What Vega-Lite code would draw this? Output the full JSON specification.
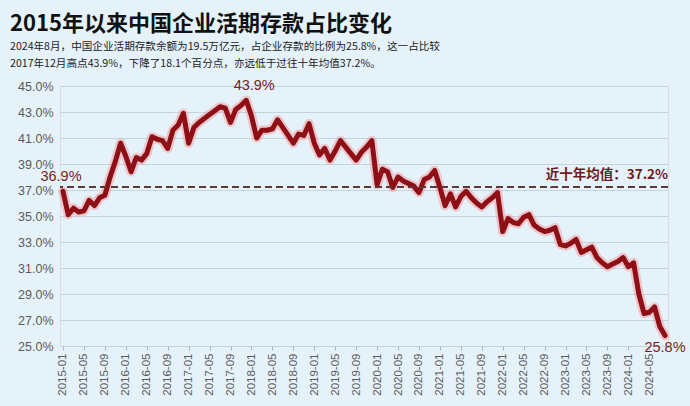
{
  "$schema": "https://vega.github.io/schema/vega-lite/v6.json",
  "width": 608,
  "height": 260,
  "autosize": {"type": "none"},
  "padding": {"left": 60, "top": 86, "right": 22, "bottom": 60},
  "background": "#e5f2fa",
  "title": {
    "text": "2015年以来中国企业活期存款占比变化",
    "subtitle": [
      "2024年8月，中国企业活期存款余额为19.5万亿元，占企业存款的比例为25.8%，这一占比较",
      "2017年12月高点43.9%，下降了18.1个百分点，亦远低于过往十年均值37.2%。"
    ],
    "anchor": "start",
    "frame": "group",
    "dx": -50,
    "offset": 8,
    "font": "Noto Sans CJK SC",
    "fontSize": 22,
    "fontWeight": "bold",
    "color": "#111111",
    "subtitleFont": "Noto Sans CJK SC",
    "subtitleFontSize": 10.6,
    "subtitleColor": "#222222",
    "subtitleLineHeight": 17,
    "subtitlePadding": 6
  },
  "datasets": {
    "ratio": [
      {"m": "2015-01", "v": 36.9}, {"m": "2015-02", "v": 35.1}, {"m": "2015-03", "v": 35.6}, {"m": "2015-04", "v": 35.3},
      {"m": "2015-05", "v": 35.4}, {"m": "2015-06", "v": 36.2}, {"m": "2015-07", "v": 35.8}, {"m": "2015-08", "v": 36.4},
      {"m": "2015-09", "v": 36.6}, {"m": "2015-10", "v": 38.0}, {"m": "2015-11", "v": 39.2}, {"m": "2015-12", "v": 40.6},
      {"m": "2016-01", "v": 39.6}, {"m": "2016-02", "v": 38.4}, {"m": "2016-03", "v": 39.5}, {"m": "2016-04", "v": 39.3},
      {"m": "2016-05", "v": 39.8}, {"m": "2016-06", "v": 41.1}, {"m": "2016-07", "v": 40.9}, {"m": "2016-08", "v": 40.8},
      {"m": "2016-09", "v": 40.2}, {"m": "2016-10", "v": 41.6}, {"m": "2016-11", "v": 42.0}, {"m": "2016-12", "v": 42.9},
      {"m": "2017-01", "v": 40.6}, {"m": "2017-02", "v": 41.8}, {"m": "2017-03", "v": 42.2}, {"m": "2017-04", "v": 42.5},
      {"m": "2017-05", "v": 42.8}, {"m": "2017-06", "v": 43.1}, {"m": "2017-07", "v": 43.4}, {"m": "2017-08", "v": 43.3},
      {"m": "2017-09", "v": 42.2}, {"m": "2017-10", "v": 43.2}, {"m": "2017-11", "v": 43.5}, {"m": "2017-12", "v": 43.9},
      {"m": "2018-01", "v": 42.7}, {"m": "2018-02", "v": 41.0}, {"m": "2018-03", "v": 41.6}, {"m": "2018-04", "v": 41.6},
      {"m": "2018-05", "v": 41.7}, {"m": "2018-06", "v": 42.4}, {"m": "2018-07", "v": 41.8}, {"m": "2018-08", "v": 41.2},
      {"m": "2018-09", "v": 40.6}, {"m": "2018-10", "v": 41.3}, {"m": "2018-11", "v": 41.2}, {"m": "2018-12", "v": 42.1},
      {"m": "2019-01", "v": 40.6}, {"m": "2019-02", "v": 39.7}, {"m": "2019-03", "v": 40.2}, {"m": "2019-04", "v": 39.3},
      {"m": "2019-05", "v": 40.0}, {"m": "2019-06", "v": 40.8}, {"m": "2019-07", "v": 40.3}, {"m": "2019-08", "v": 39.8},
      {"m": "2019-09", "v": 39.3}, {"m": "2019-10", "v": 39.9}, {"m": "2019-11", "v": 40.3}, {"m": "2019-12", "v": 40.8},
      {"m": "2020-01", "v": 37.4}, {"m": "2020-02", "v": 38.6}, {"m": "2020-03", "v": 38.4}, {"m": "2020-04", "v": 37.2},
      {"m": "2020-05", "v": 38.0}, {"m": "2020-06", "v": 37.7}, {"m": "2020-07", "v": 37.5}, {"m": "2020-08", "v": 37.3},
      {"m": "2020-09", "v": 36.8}, {"m": "2020-10", "v": 37.8}, {"m": "2020-11", "v": 38.0}, {"m": "2020-12", "v": 38.5},
      {"m": "2021-01", "v": 37.2}, {"m": "2021-02", "v": 35.8}, {"m": "2021-03", "v": 36.7}, {"m": "2021-04", "v": 35.7},
      {"m": "2021-05", "v": 36.5}, {"m": "2021-06", "v": 36.9}, {"m": "2021-07", "v": 36.4}, {"m": "2021-08", "v": 36.0},
      {"m": "2021-09", "v": 35.7}, {"m": "2021-10", "v": 36.1}, {"m": "2021-11", "v": 36.4}, {"m": "2021-12", "v": 36.8},
      {"m": "2022-01", "v": 33.8}, {"m": "2022-02", "v": 34.8}, {"m": "2022-03", "v": 34.5}, {"m": "2022-04", "v": 34.4},
      {"m": "2022-05", "v": 34.9}, {"m": "2022-06", "v": 35.1}, {"m": "2022-07", "v": 34.3}, {"m": "2022-08", "v": 34.0},
      {"m": "2022-09", "v": 33.8}, {"m": "2022-10", "v": 33.9}, {"m": "2022-11", "v": 34.1}, {"m": "2022-12", "v": 32.8},
      {"m": "2023-01", "v": 32.7}, {"m": "2023-02", "v": 32.9}, {"m": "2023-03", "v": 33.2}, {"m": "2023-04", "v": 32.2},
      {"m": "2023-05", "v": 32.4}, {"m": "2023-06", "v": 32.6}, {"m": "2023-07", "v": 31.8}, {"m": "2023-08", "v": 31.4},
      {"m": "2023-09", "v": 31.1}, {"m": "2023-10", "v": 31.3}, {"m": "2023-11", "v": 31.5}, {"m": "2023-12", "v": 31.8},
      {"m": "2024-01", "v": 31.1}, {"m": "2024-02", "v": 31.4}, {"m": "2024-03", "v": 29.0}, {"m": "2024-04", "v": 27.5},
      {"m": "2024-05", "v": 27.6}, {"m": "2024-06", "v": 28.0}, {"m": "2024-07", "v": 26.5}, {"m": "2024-08", "v": 25.8}
    ]
  },
  "data": {"name": "ratio"},
  "encoding": {
    "x": {
      "field": "m",
      "type": "ordinal",
      "sort": null,
      "scale": {"type": "point", "padding": 0.57},
      "axis": {
        "title": null,
        "values": [
          "2015-01", "2015-05", "2015-09", "2016-01", "2016-05", "2016-09", "2017-01", "2017-05", "2017-09",
          "2018-01", "2018-05", "2018-09", "2019-01", "2019-05", "2019-09", "2020-01", "2020-05", "2020-09",
          "2021-01", "2021-05", "2021-09", "2022-01", "2022-05", "2022-09", "2023-01", "2023-05", "2023-09",
          "2024-01", "2024-05"
        ],
        "labelAngle": -90,
        "labelFont": "Liberation Sans",
        "labelFontSize": 11.5,
        "labelColor": "#5a5a5a",
        "labelPadding": 3,
        "ticks": true,
        "tickSize": 4,
        "tickColor": "#aab8c2",
        "domain": false,
        "grid": false
      }
    },
    "y": {
      "field": "v",
      "type": "quantitative",
      "scale": {"domain": [25, 45], "nice": false, "zero": false},
      "axis": {
        "title": null,
        "values": [25, 27, 29, 31, 33, 35, 37, 39, 41, 43, 45],
        "labelExpr": "format(datum.value, '.1f') + '%'",
        "labelFont": "Liberation Sans",
        "labelFontSize": 12.5,
        "labelColor": "#5a5a5a",
        "labelPadding": 7,
        "ticks": false,
        "domain": false,
        "grid": true,
        "gridColor": "#c4d4de",
        "gridWidth": 1
      }
    }
  },
  "layer": [
    {
      "mark": {"type": "line", "color": "#f2999b", "strokeWidth": 9.5, "opacity": 0.5, "strokeJoin": "round", "strokeCap": "round"}
    },
    {
      "mark": {"type": "line", "color": "#8e1016", "strokeWidth": 5, "strokeJoin": "round", "strokeCap": "round"}
    },
    {
      "mark": {"type": "rule", "color": "#5e3a3c", "strokeWidth": 1, "strokeDash": [7, 4]},
      "encoding": {"y": {"datum": 37.2}, "x": null}
    },
    {
      "transform": [{"filter": "datum.m == '2015-01'"}],
      "mark": {"type": "text", "align": "center", "baseline": "middle", "dx": -2, "dy": -14, "font": "Liberation Sans", "fontSize": 14.5, "color": "#7a1c22"},
      "encoding": {"text": {"value": "36.9%"}}
    },
    {
      "transform": [{"filter": "datum.m == '2017-12'"}],
      "mark": {"type": "text", "align": "center", "baseline": "middle", "dx": 8, "dy": -14, "font": "Liberation Sans", "fontSize": 14.5, "color": "#7a1c22"},
      "encoding": {"text": {"value": "43.9%"}}
    },
    {
      "transform": [{"filter": "datum.m == '2024-08'"}],
      "mark": {"type": "text", "align": "center", "baseline": "middle", "dy": 12, "font": "Liberation Sans", "fontSize": 14.5, "color": "#7a1c22"},
      "encoding": {"text": {"value": "25.8%"}}
    },
    {
      "transform": [{"filter": "datum.m == '2024-08'"}],
      "mark": {"type": "text", "align": "right", "baseline": "middle", "dx": 3, "font": "Noto Sans CJK SC", "fontSize": 13.5, "fontWeight": "bold", "color": "#6e1a1e"},
      "encoding": {"y": {"datum": 38.15}, "text": {"value": "近十年均值：37.2%"}}
    }
  ]
}
